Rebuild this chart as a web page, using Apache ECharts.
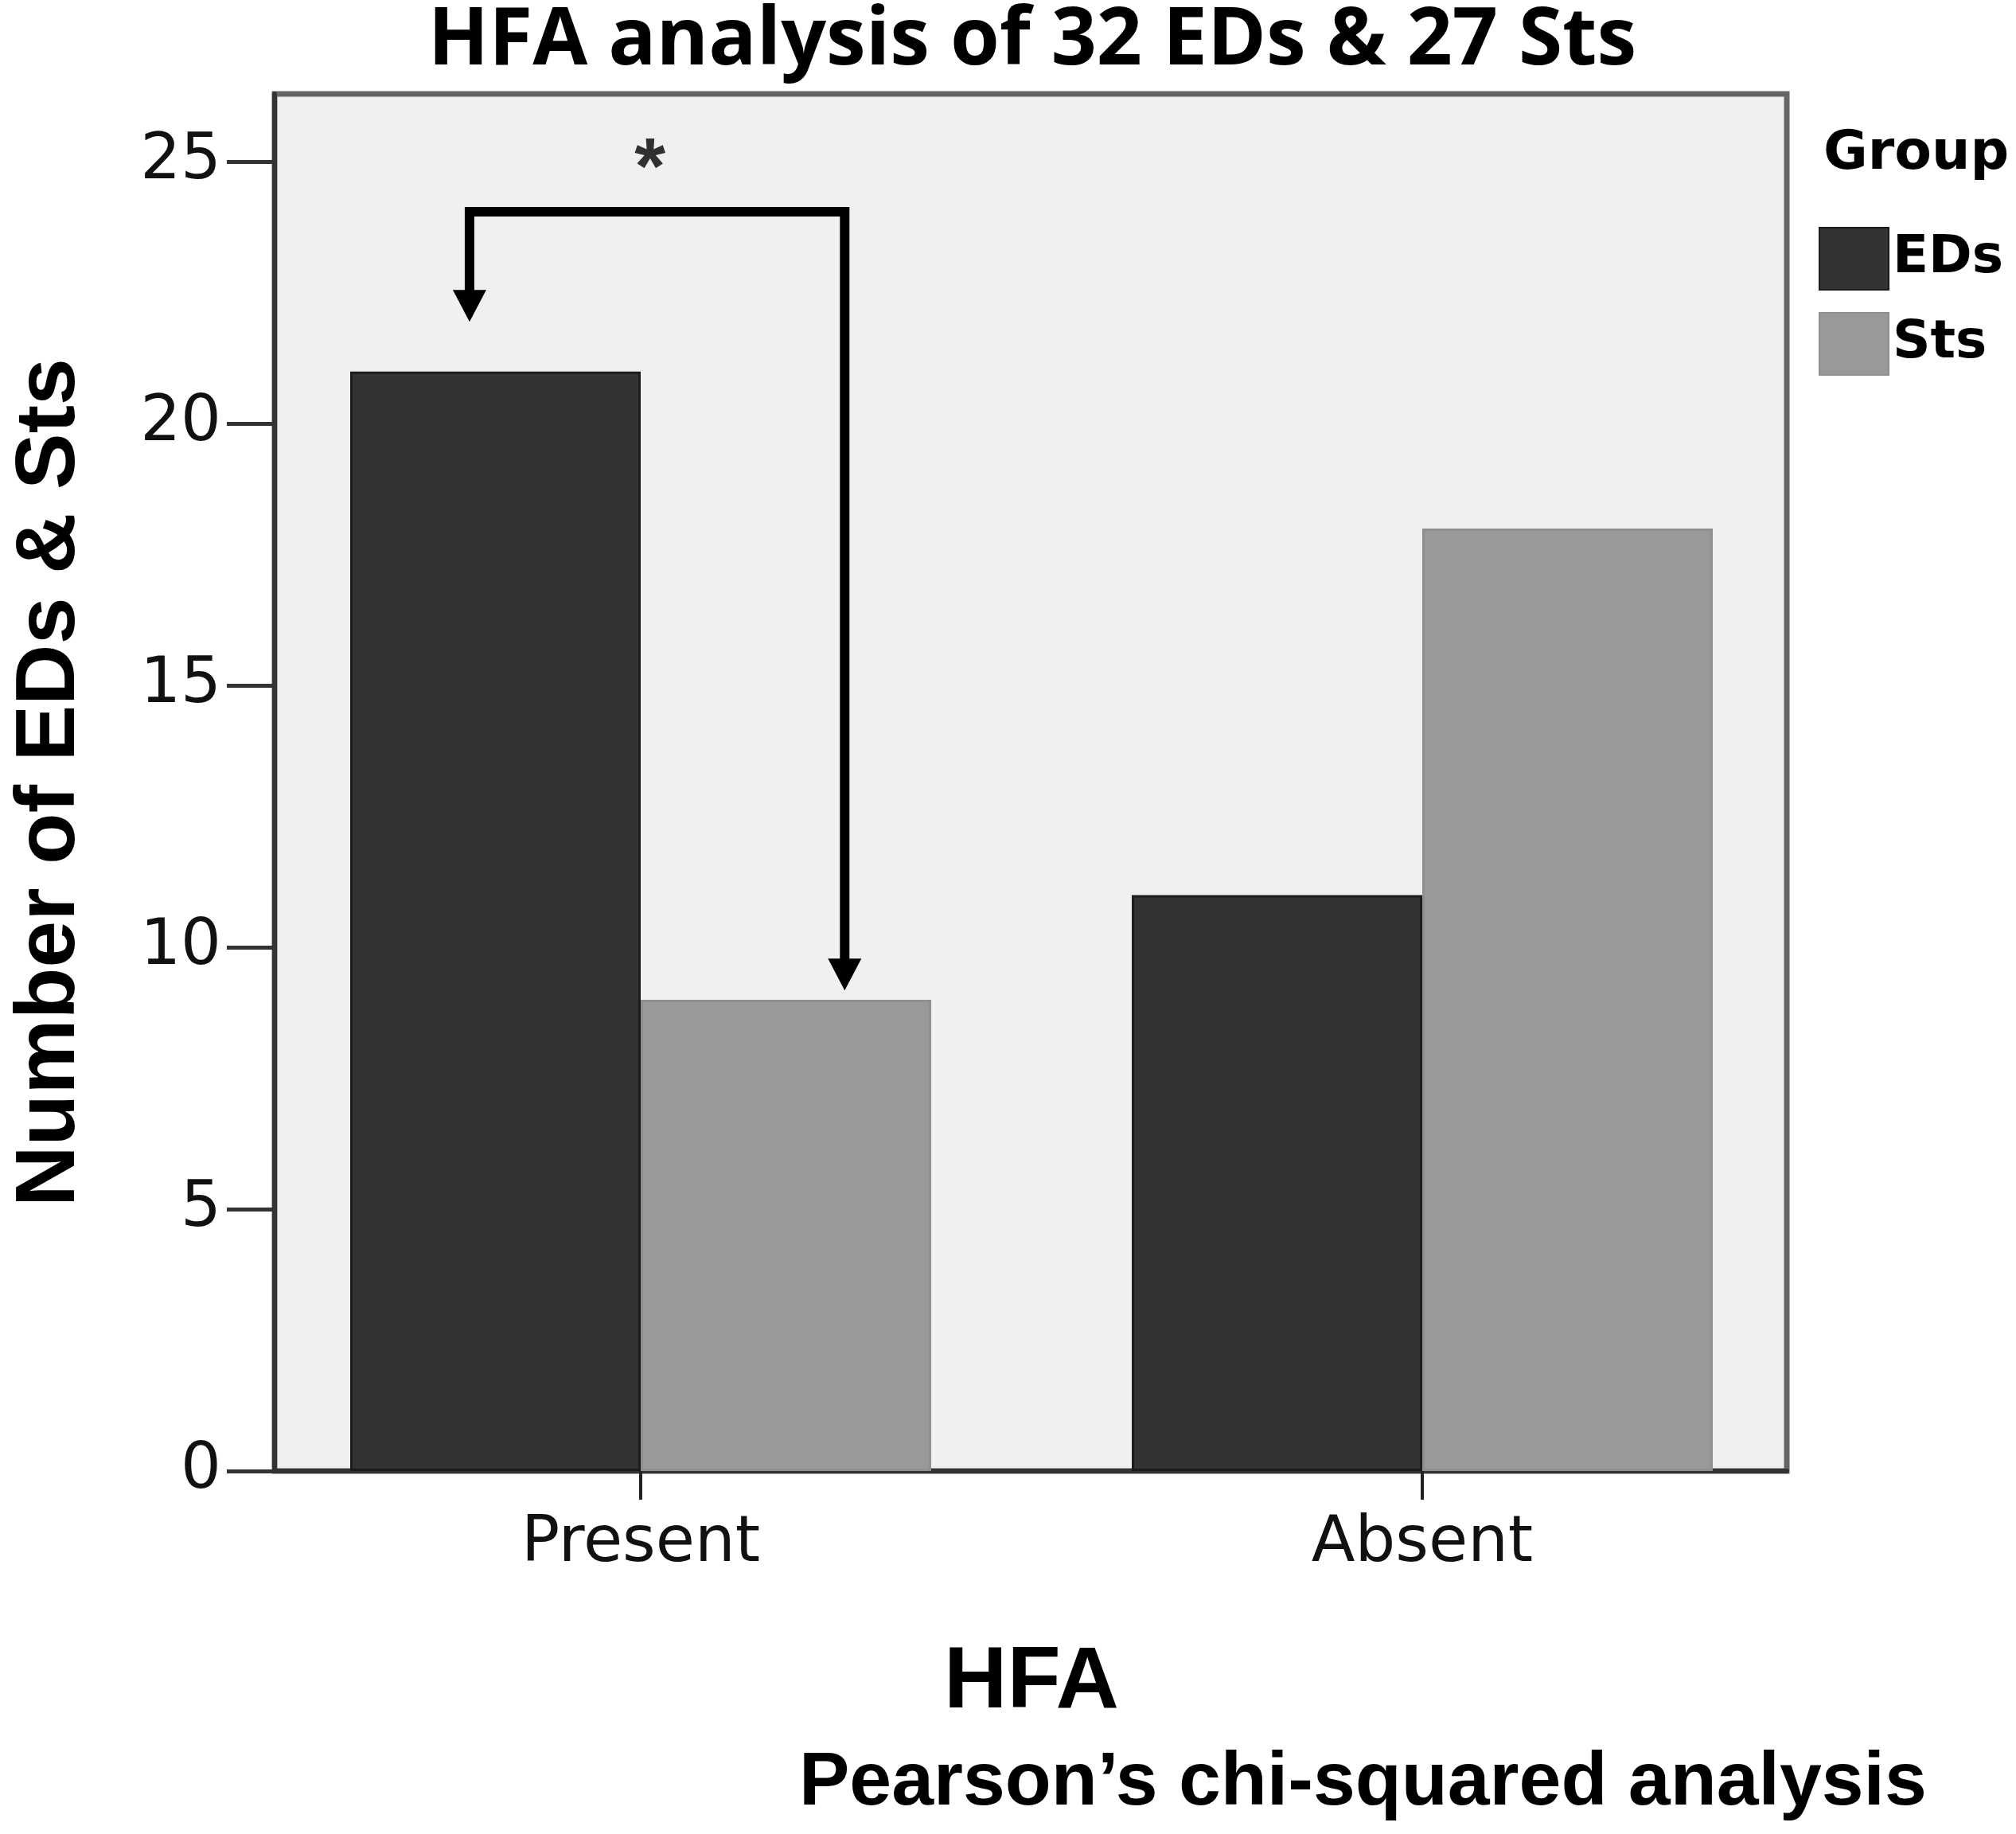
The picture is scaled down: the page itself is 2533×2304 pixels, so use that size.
<!DOCTYPE html>
<html><head><meta charset="utf-8">
<script src="https://cdn.jsdelivr.net/npm/echarts@6/dist/echarts.min.js"></script>
<style>html,body{margin:0;padding:0;background:#fff}#c{width:2533px;height:2304px}</style>
</head><body><div id="c"></div>
<script>
// ---- data ----
const categories = ['Present', 'Absent'];
const seriesNames = ['EDs', 'Sts'];
const edValues = [21, 11];
const stsValues = [9, 18];
const yTicks = [0, 5, 10, 15, 20, 25];
const yMax = 26.3;
// significance bracket (x in category-index units, y in counts)
const bracketPath = [[-0.219, 22.3], [-0.219, 24.05], [0.261, 24.05], [0.261, 9.7]];
const arrowTips = [[-0.219, 21.95], [0.261, 9.18]];
const starPoint = [[0.012, 25.15]];

const chart = echarts.init(document.getElementById('c'), null, {renderer: 'canvas'});
const tickFont = 'DejaVu Sans';
const boldFont = 'Liberation Sans';

const option = {
  backgroundColor: '#ffffff',
  animation: false,
  title: [
    {text: 'HFA analysis of 32 EDs & 27 Sts', left: 1292, top: -2, textAlign: 'center',
     textStyle: {fontFamily: 'Open Sans', fontWeight: 'bold', fontSize: 100, color: '#000'}},
    {text: 'Pearson\u2019s chi-squared analysis', left: 999, top: 2188,
     textStyle: {fontFamily: boldFont, fontWeight: 'bold', fontSize: 95, color: '#000'}},
    {text: 'Group', left: 2286, top: 155,
     textStyle: {fontFamily: tickFont, fontWeight: 'bold', fontSize: 68, color: '#000'}}
  ],
  legend: {
    orient: 'vertical', left: 2280, top: 280, itemWidth: 87, itemHeight: 78, itemGap: 27,
    icon: 'rect', data: seriesNames,
    textStyle: {fontFamily: tickFont, fontWeight: 'bold', fontSize: 66, color: '#000'}
  },
  grid: [
    {left: 314, right: 255, top: 118, bottom: 456, containLabel: false},
    {left: 345, right: 288, top: 118, bottom: 456, show: true, backgroundColor: '#f0f0f0',
     borderColor: '#666666', borderWidth: 7, z: 0}
  ],
  xAxis: [
    {type: 'category', gridIndex: 0, data: categories,
     axisLine: {show: false},
     axisTick: {show: true, alignWithLabel: true, length: 36, lineStyle: {color: '#222', width: 4}},
     axisLabel: {fontFamily: tickFont, fontSize: 80, color: '#111', margin: 52},
     name: 'HFA', nameLocation: 'middle', nameGap: 212,
     nameTextStyle: {fontFamily: boldFont, fontWeight: 'bold', fontSize: 110, color: '#000'}},
    {type: 'value', gridIndex: 1, min: 0, max: 1, show: true,
     axisLine: {show: true, onZero: false, lineStyle: {color: '#333', width: 6}},
     axisTick: {show: false}, axisLabel: {show: false}, splitLine: {show: false}},
    {type: 'value', gridIndex: 0, min: -0.5, max: 1.5, show: false}
  ],
  yAxis: [
    {type: 'value', gridIndex: 0, min: yTicks[0], max: yMax, interval: yTicks[1] - yTicks[0], show: false},
    {type: 'value', gridIndex: 1, min: yTicks[0], max: yMax, interval: yTicks[1] - yTicks[0],
     axisLine: {show: true, lineStyle: {color: '#333', width: 6}},
     axisTick: {show: true, length: 60, lineStyle: {color: '#333', width: 5}},
     axisLabel: {fontFamily: tickFont, fontSize: 80, color: '#111', margin: 67,
                 showMaxLabel: false},
     splitLine: {show: false},
     name: 'Number of EDs & Sts', nameLocation: 'middle', nameGap: 228,
     nameTextStyle: {fontFamily: boldFont, fontWeight: 'bold', fontSize: 106, color: '#000'}}
  ],
  series: [
    {name: seriesNames[0], type: 'bar', xAxisIndex: 0, yAxisIndex: 0, data: edValues,
     barWidth: 365, barGap: '0%',
     itemStyle: {color: '#333333', borderColor: '#1c1c1c', borderWidth: 3}},
    {name: seriesNames[1], type: 'bar', xAxisIndex: 0, yAxisIndex: 0, data: stsValues,
     barWidth: 365, barGap: '0%',
     itemStyle: {color: '#999999', borderColor: '#8f8f8f', borderWidth: 3}},
    {type: 'line', xAxisIndex: 2, yAxisIndex: 0, data: bracketPath, symbol: 'none',
     lineStyle: {color: '#000', width: 12, cap: 'butt', join: 'miter'}, z: 5, silent: true},
    {type: 'scatter', xAxisIndex: 2, yAxisIndex: 0, data: arrowTips, symbol: 'triangle',
     symbolSize: [42, 40], symbolRotate: 180, symbolOffset: [0, -20],
     itemStyle: {color: '#000', opacity: 1}, z: 6, silent: true},
    {type: 'scatter', xAxisIndex: 2, yAxisIndex: 0, data: starPoint, symbolSize: 1,
     itemStyle: {color: 'rgba(0,0,0,0)'},
     label: {show: true, position: 'inside', formatter: '*', fontFamily: boldFont,
             fontWeight: 'bold', fontSize: 100, color: '#000', offset: [0, 22]}, z: 6, silent: true}
  ]
};
chart.setOption(option);
</script>
</body></html>
